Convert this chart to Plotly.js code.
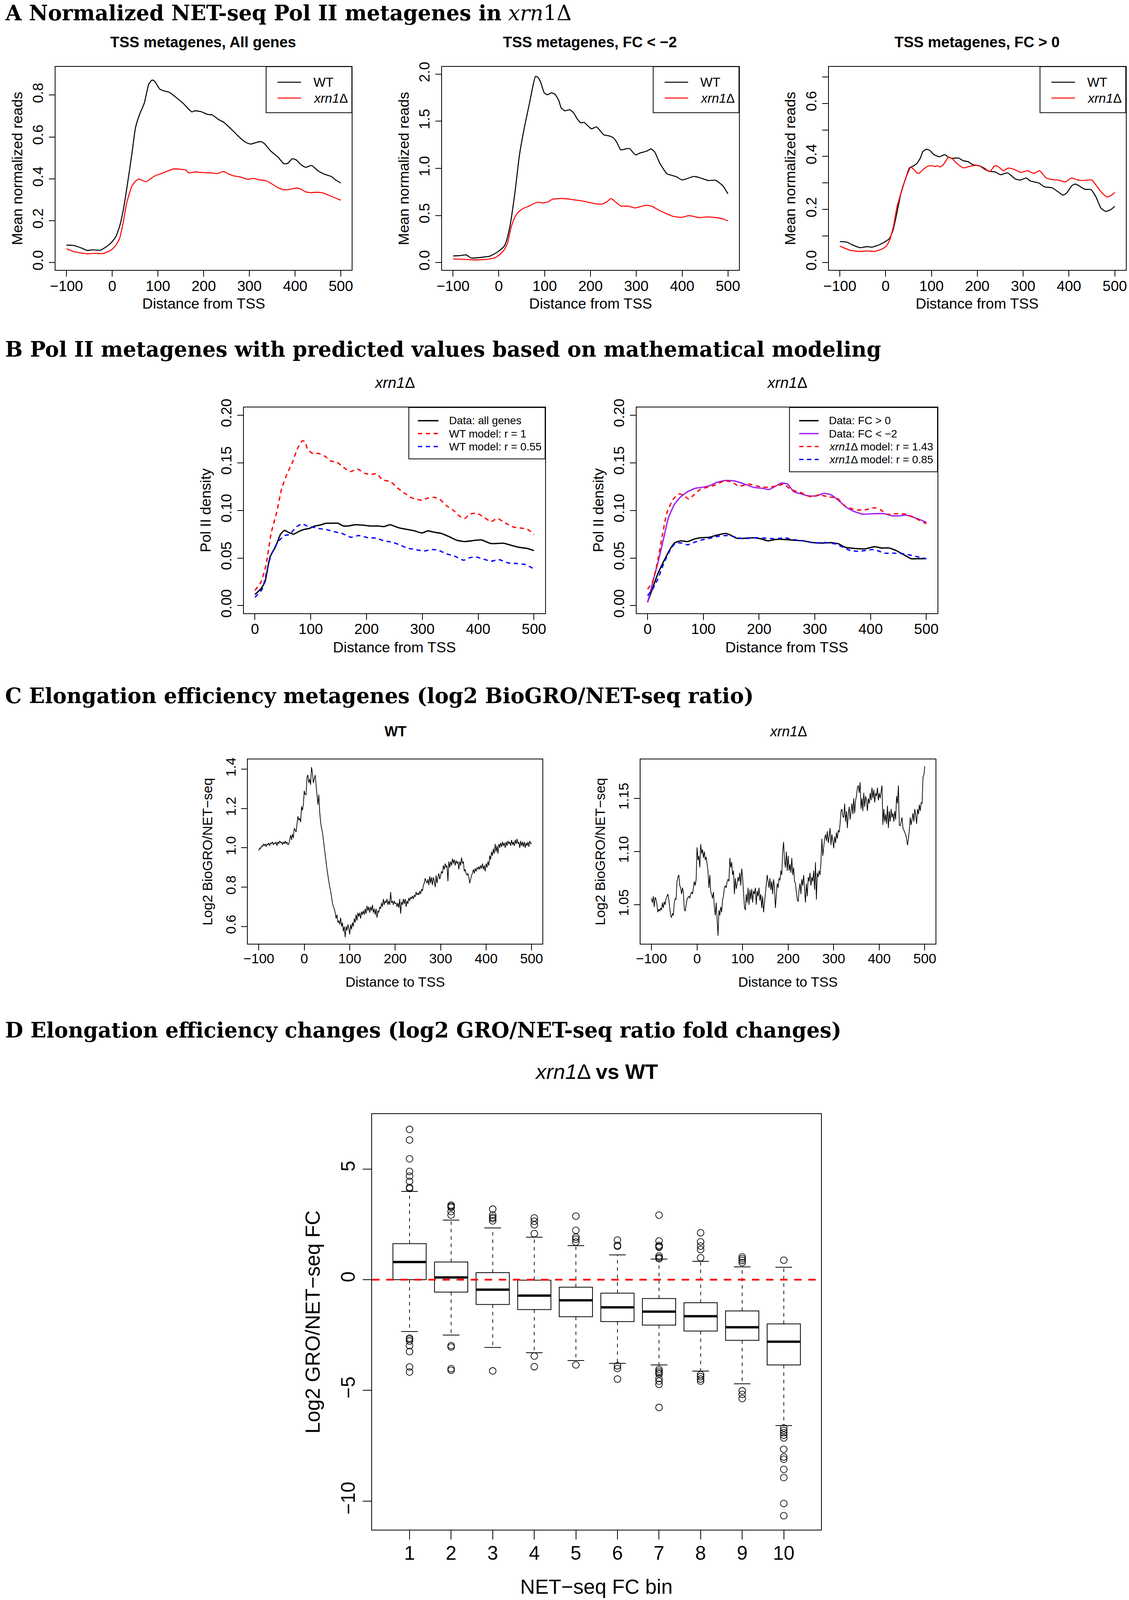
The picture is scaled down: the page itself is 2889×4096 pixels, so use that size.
<!DOCTYPE html>
<html><head><meta charset="utf-8">
<script src="https://cdn.plot.ly/plotly-3.0.1.min.js"></script>
<style>html,body{margin:0;padding:0;background:#fff;}#chart{width:2889px;height:4096px;}</style>
</head><body><div id="chart"></div>
<script>
// ---------------- DATA ----------------
// Panel A1: All genes
const a1WtX = [-100,-85,-69,-55,-42,-26,-10,0,8,16,24,32,43,51,59,70,80,87,92,104,112,126,139,155,174,181,194,208,219,232,244,261,279,293,303,314,325,333,346,362,375,383,394,402,413,423,436,449,463,479,489,500];
const a1WtY = [0.083,0.082,0.071,0.058,0.061,0.059,0.080,0.100,0.124,0.172,0.249,0.356,0.520,0.645,0.703,0.761,0.853,0.872,0.868,0.829,0.821,0.812,0.790,0.761,0.720,0.725,0.721,0.708,0.705,0.684,0.670,0.636,0.597,0.573,0.566,0.573,0.578,0.568,0.534,0.505,0.473,0.473,0.496,0.491,0.467,0.455,0.464,0.440,0.423,0.411,0.394,0.380];
const a1XrX = [-100,-85,-69,-53,-37,-21,-8,0,8,16,24,32,43,51,58,64,74,83,93,107,122,133,149,160,168,181,197,219,229,243,253,264,280,296,309,320,336,346,362,373,383,404,412,423,433,447,460,473,487,500];
const a1XrY = [0.066,0.053,0.046,0.042,0.044,0.043,0.053,0.064,0.083,0.114,0.191,0.288,0.365,0.389,0.399,0.394,0.386,0.399,0.414,0.425,0.438,0.447,0.446,0.443,0.428,0.433,0.430,0.428,0.425,0.435,0.425,0.415,0.409,0.398,0.402,0.396,0.391,0.380,0.358,0.349,0.348,0.356,0.351,0.338,0.334,0.336,0.333,0.322,0.309,0.298];
// Panel A2: FC < -2
const a2WtX = [-100,-85,-71,-61,-50,-31,-21,-10,0,11,16,24,35,45,56,67,74,80,85,91,99,106,115,123,131,136,144,155,163,171,179,186,202,213,229,240,250,258,266,277,285,298,309,322,332,340,351,367,377,388,399,409,425,436,457,473,489,500];
const a2WtY = [0.070,0.074,0.081,0.049,0.049,0.060,0.066,0.091,0.123,0.170,0.219,0.378,0.740,1.143,1.441,1.696,1.866,1.977,1.968,1.919,1.802,1.781,1.802,1.785,1.717,1.643,1.611,1.622,1.590,1.526,1.484,1.488,1.420,1.441,1.356,1.345,1.324,1.271,1.197,1.207,1.211,1.143,1.165,1.182,1.207,1.175,1.058,0.942,0.927,0.910,0.878,0.888,0.914,0.905,0.871,0.874,0.814,0.729];
const a2XrX = [-100,-74,-53,-26,-10,0,11,19,27,35,43,53,64,75,85,96,107,117,133,149,165,181,197,213,226,237,245,253,266,282,298,311,324,335,348,362,380,399,415,436,457,473,489,500];
const a2XrY = [0.038,0.034,0.028,0.034,0.049,0.077,0.130,0.208,0.378,0.485,0.538,0.574,0.595,0.623,0.640,0.633,0.644,0.672,0.680,0.676,0.665,0.655,0.638,0.623,0.621,0.650,0.680,0.650,0.601,0.599,0.580,0.597,0.608,0.595,0.559,0.527,0.491,0.480,0.499,0.478,0.485,0.478,0.463,0.442];
// Panel A3: FC > 0
const a3WtX = [-100,-85,-72,-56,-41,-30,-14,0,8,16,23,34,44,52,59,68,76,81,89,97,105,118,129,137,145,159,169,180,190,201,214,225,238,251,265,272,283,294,307,315,334,347,363,376,387,395,406,414,424,435,448,459,470,480,491,500];
const a3WtY = [0.079,0.077,0.066,0.056,0.060,0.058,0.067,0.080,0.090,0.121,0.174,0.266,0.319,0.357,0.363,0.373,0.395,0.418,0.427,0.422,0.407,0.399,0.407,0.397,0.393,0.394,0.384,0.380,0.369,0.366,0.357,0.344,0.342,0.331,0.338,0.331,0.315,0.311,0.319,0.308,0.300,0.285,0.282,0.267,0.254,0.262,0.289,0.296,0.287,0.276,0.275,0.247,0.205,0.193,0.199,0.212];
const a3XrX = [-100,-77,-56,-41,-25,-9,2,9,17,25,33,44,55,62,68,73,82,92,100,108,113,118,126,137,145,155,169,180,193,204,217,228,238,246,257,267,281,294,310,323,336,350,363,376,392,406,416,429,450,459,470,483,493,500];
const a3XrY = [0.062,0.046,0.042,0.044,0.042,0.050,0.063,0.086,0.136,0.212,0.258,0.319,0.359,0.350,0.338,0.337,0.351,0.363,0.365,0.362,0.365,0.360,0.369,0.397,0.392,0.374,0.357,0.361,0.366,0.365,0.350,0.344,0.365,0.361,0.346,0.356,0.351,0.340,0.346,0.336,0.346,0.319,0.313,0.311,0.304,0.319,0.313,0.309,0.311,0.292,0.267,0.247,0.254,0.264];
// Panel B1
const b1DataX = [0,11,18,27,37,46,53,60,69,79,88,97,107,116,128,137,149,158,168,179,193,207,221,231,242,259,273,285,299,310,322,334,348,362,376,395,406,423,446,460,474,488,500];
const b1DataY = [0.0117,0.018,0.025,0.051,0.062,0.075,0.079,0.077,0.075,0.078,0.080,0.081,0.0835,0.0845,0.0865,0.0865,0.0865,0.0837,0.0837,0.0849,0.0845,0.0836,0.0836,0.083,0.0849,0.0815,0.080,0.0787,0.0763,0.0785,0.077,0.0758,0.0724,0.0686,0.0673,0.0686,0.069,0.0652,0.0655,0.0632,0.0612,0.060,0.0578];
const b1R1X = [0,11,20,29,39,48,58,67,76,85,89,95,104,114,125,135,147,158,170,184,196,207,219,228,243,254,268,282,299,310,322,331,343,357,367,376,385,397,409,423,434,448,463,477,488,500];
const b1R1Y = [0.016,0.025,0.043,0.076,0.098,0.123,0.139,0.150,0.1645,0.173,0.1725,0.1636,0.1596,0.1598,0.157,0.152,0.1505,0.1456,0.1406,0.1433,0.139,0.1377,0.1384,0.1321,0.1303,0.1242,0.1181,0.1129,0.1107,0.1129,0.1136,0.1118,0.1051,0.0994,0.0938,0.0915,0.096,0.0972,0.0934,0.0882,0.0916,0.087,0.0826,0.0814,0.0803,0.0747];
const b1R055X = [0,13,20,29,41,53,62,74,85,93,102,116,128,142,156,172,186,203,217,231,245,259,273,287,303,318,329,343,357,374,383,395,411,423,437,454,466,484,500];
const b1R055Y = [0.0088,0.0173,0.033,0.0533,0.0668,0.0736,0.0747,0.0826,0.086,0.0837,0.0826,0.0808,0.0799,0.0776,0.0758,0.0718,0.0736,0.0713,0.0709,0.068,0.0668,0.0639,0.0605,0.0589,0.0574,0.0589,0.0582,0.0544,0.0522,0.0477,0.050,0.0512,0.0486,0.0466,0.0484,0.0448,0.0444,0.0432,0.0387];
// Panel B2
const b2PosX = [0,7,18,29,40,48,59,72,85,96,111,124,140,149,159,172,188,203,216,229,246,264,279,294,312,329,342,355,372,390,407,420,433,446,460,473,486,500];
const b2PosY = [0.0038,0.015,0.033,0.0466,0.059,0.0657,0.068,0.0673,0.0702,0.0713,0.0718,0.074,0.0758,0.074,0.0709,0.0706,0.0713,0.0702,0.068,0.0695,0.0695,0.0686,0.068,0.0664,0.0657,0.0661,0.065,0.0612,0.060,0.0596,0.0619,0.0605,0.0605,0.0578,0.0533,0.0493,0.0493,0.0493];
const b2NegX = [0,9,20,29,37,48,59,72,85,98,111,124,140,155,172,190,207,218,229,240,251,262,275,288,303,316,329,342,355,368,386,403,425,438,451,464,477,488,500];
const b2NegY = [0.0034,0.024,0.0488,0.0713,0.0916,0.1062,0.1141,0.1197,0.1231,0.1242,0.1258,0.1294,0.1314,0.131,0.128,0.1242,0.1231,0.1219,0.1253,0.1287,0.1276,0.1197,0.1174,0.1152,0.1152,0.1179,0.1163,0.1107,0.1039,0.0994,0.096,0.0965,0.0965,0.0943,0.0943,0.095,0.0927,0.0904,0.0875];
const b2R143X = [0,9,18,27,35,46,57,66,74,83,94,107,120,138,151,164,181,198,216,233,244,257,275,294,307,325,340,353,372,390,407,418,429,446,464,481,500];
const b2R143Y = [0.0173,0.0252,0.0466,0.0758,0.0983,0.1118,0.1174,0.1152,0.1118,0.1163,0.1219,0.1242,0.1264,0.131,0.1298,0.1253,0.1276,0.1253,0.1242,0.1258,0.1276,0.1219,0.1186,0.1141,0.1163,0.1141,0.1129,0.1051,0.1006,0.1006,0.1028,0.1006,0.096,0.0965,0.096,0.0916,0.0859];
const b2R085X = [0,9,18,29,40,50,61,72,85,98,116,129,142,155,172,190,211,229,246,264,281,299,316,338,351,364,381,403,412,425,442,460,477,500];
const b2R085Y = [0.0106,0.0173,0.0274,0.0443,0.0578,0.0657,0.0657,0.0639,0.0668,0.0691,0.0713,0.0731,0.0736,0.0724,0.0702,0.0713,0.0709,0.0702,0.0713,0.0691,0.068,0.0657,0.0664,0.0646,0.0612,0.0578,0.0571,0.0589,0.0578,0.0551,0.0551,0.0544,0.0522,0.0493];
// Panel C: values every 2 nt from -100 to 500
const cStart = -100, cStep = 2;
const cWtY = [
0.985,1.000,0.995,1.010,1.005,1.020,1.010,1.020,1.005,1.020,
1.015,1.025,1.010,1.025,1.020,1.030,1.015,1.025,1.020,1.030,
1.010,1.030,1.020,1.035,1.025,1.030,1.015,1.030,1.020,1.035,
1.020,1.030,1.015,1.020,1.040,1.065,1.040,1.070,1.050,1.100,
1.090,1.080,1.120,1.160,1.140,1.150,1.130,1.210,1.190,1.220,
1.290,1.270,1.270,1.360,1.370,1.330,1.350,1.320,1.410,1.380,
1.330,1.350,1.370,1.320,1.270,1.220,1.270,1.180,1.130,1.100,
1.080,1.040,1.000,0.970,0.930,0.890,0.860,0.830,0.800,0.780,
0.750,0.720,0.700,0.690,0.670,0.640,0.660,0.620,0.630,0.610,
0.645,0.600,0.620,0.575,0.600,0.545,0.600,0.580,0.610,0.590,
0.560,0.610,0.585,0.620,0.600,0.640,0.620,0.660,0.630,0.670,
0.650,0.670,0.640,0.675,0.660,0.680,0.660,0.690,0.665,0.705,
0.680,0.700,0.670,0.700,0.680,0.710,0.670,0.690,0.660,0.690,
0.645,0.680,0.670,0.700,0.690,0.720,0.700,0.740,0.710,0.730,
0.720,0.740,0.710,0.730,0.710,0.775,0.720,0.730,0.710,0.730,
0.715,0.720,0.700,0.720,0.695,0.740,0.665,0.725,0.710,0.740,
0.715,0.740,0.700,0.730,0.715,0.745,0.730,0.750,0.740,0.755,
0.740,0.760,0.750,0.775,0.760,0.770,0.760,0.780,0.765,0.790,
0.780,0.810,0.820,0.845,0.830,0.820,0.840,0.810,0.855,0.820,
0.850,0.810,0.850,0.830,0.800,0.860,0.820,0.850,0.870,0.840,
0.860,0.880,0.870,0.910,0.890,0.920,0.900,0.910,0.830,0.930,
0.900,0.930,0.910,0.945,0.920,0.940,0.910,0.935,0.920,0.930,
0.890,0.930,0.910,0.950,0.920,0.930,0.880,0.890,0.870,0.860,
0.870,0.850,0.820,0.840,0.860,0.870,0.890,0.870,0.895,0.880,
0.900,0.890,0.905,0.890,0.910,0.895,0.920,0.890,0.910,0.880,
0.920,0.900,0.930,0.910,0.960,0.940,0.980,0.960,0.995,0.970,
1.020,0.980,1.010,0.970,1.020,1.000,1.025,1.005,1.030,1.010,
1.025,1.000,1.030,1.010,1.035,1.020,1.030,1.010,1.040,1.015,
1.030,1.010,1.040,1.020,1.045,1.020,1.030,1.000,1.035,1.010,
1.030,1.005,1.030,1.000,1.025,1.010,1.030,1.005,1.035,1.020,
1.025];
const cXrnY = [
1.056,1.052,1.058,1.048,1.057,1.055,1.050,1.043,1.046,1.044,
1.047,1.045,1.052,1.047,1.053,1.050,1.056,1.058,1.060,1.055,
1.048,1.040,1.038,1.042,1.040,1.052,1.056,1.055,1.072,1.076,
1.078,1.068,1.066,1.060,1.066,1.062,1.046,1.044,1.050,1.055,
1.057,1.058,1.056,1.060,1.062,1.060,1.066,1.072,1.068,1.074,
1.104,1.092,1.096,1.085,1.107,1.098,1.102,1.094,1.100,1.092,
1.095,1.088,1.082,1.066,1.078,1.062,1.060,1.056,1.062,1.048,
1.040,1.052,1.036,1.021,1.045,1.040,1.048,1.043,1.055,1.058,
1.066,1.068,1.066,1.072,1.074,1.072,1.094,1.085,1.090,1.078,
1.082,1.060,1.075,1.065,1.070,1.076,1.072,1.080,1.068,1.084,
1.076,1.062,1.048,1.045,1.060,1.052,1.066,1.050,1.064,1.055,
1.065,1.052,1.063,1.060,1.066,1.050,1.063,1.058,1.066,1.054,
1.060,1.047,1.058,1.043,1.052,1.062,1.070,1.078,1.072,1.066,
1.075,1.064,1.072,1.060,1.074,1.066,1.047,1.060,1.070,1.066,
1.075,1.073,1.082,1.078,1.100,1.109,1.092,1.085,1.100,1.082,
1.096,1.082,1.088,1.080,1.094,1.078,1.085,1.072,1.070,1.062,
1.055,1.053,1.064,1.070,1.060,1.074,1.068,1.078,1.063,1.052,
1.070,1.058,1.076,1.072,1.080,1.068,1.076,1.072,1.082,1.064,
1.090,1.055,1.080,1.076,1.082,1.078,1.090,1.112,1.096,1.104,
1.112,1.116,1.110,1.119,1.108,1.114,1.122,1.106,1.116,1.110,
1.103,1.114,1.108,1.118,1.112,1.120,1.118,1.126,1.138,1.140,
1.133,1.132,1.145,1.128,1.138,1.122,1.135,1.142,1.130,1.138,
1.145,1.135,1.150,1.136,1.148,1.152,1.160,1.162,1.155,1.165,
1.140,1.150,1.138,1.155,1.142,1.152,1.148,1.138,1.150,1.145,
1.155,1.148,1.160,1.150,1.158,1.146,1.155,1.152,1.160,1.148,
1.155,1.150,1.156,1.162,1.125,1.140,1.128,1.135,1.126,1.143,
1.122,1.138,1.128,1.140,1.132,1.136,1.128,1.138,1.130,1.152,
1.145,1.162,1.125,1.124,1.128,1.132,1.122,1.120,1.118,1.116,
1.112,1.106,1.112,1.120,1.132,1.125,1.130,1.136,1.128,1.140,
1.134,1.126,1.140,1.135,1.144,1.138,1.146,1.145,1.170,1.172,
1.180];
// Panel D: boxplot statistics per NET-seq FC bin
const dBins = [1,2,3,4,5,6,7,8,9,10];
const dQ1 = [0.00,-0.56,-1.12,-1.35,-1.67,-1.89,-2.05,-2.32,-2.74,-3.85];
const dMed = [0.80,0.10,-0.45,-0.72,-0.93,-1.25,-1.44,-1.65,-2.15,-2.80];
const dQ3 = [1.63,0.80,0.32,-0.02,-0.34,-0.61,-0.85,-1.04,-1.41,-2.00];
const dLow = [-2.34,-2.50,-3.06,-3.30,-3.65,-3.78,-3.85,-4.13,-4.70,-6.59];
const dUp = [3.99,2.69,2.34,1.92,1.54,1.12,0.93,0.83,0.58,0.56];
const dOutliers = [
  [6.79,6.31,5.46,4.89,4.68,4.44,4.17,4.12,-2.64,-2.69,-2.77,-2.98,-3.25,-3.94,-4.17],
  [3.37,3.32,3.27,3.08,2.92,-2.98,-3.04,-4.02,-4.09],
  [3.19,2.92,2.82,2.76,2.66,-4.12],
  [2.79,2.64,2.48,2.08,-3.45,-3.93],
  [2.87,2.23,1.92,1.83,1.70,-3.85],
  [1.79,1.55,1.51,-3.89,-4.01,-4.49],
  [2.92,1.75,1.55,1.50,1.47,1.07,1.00,0.95,-4.05,-4.13,-4.20,-4.26,-4.46,-4.58,-4.73,-5.77],
  [2.12,1.71,1.52,1.36,0.99,-4.29,-4.38,-4.49,-4.58],
  [1.03,0.95,0.87,0.77,-5.02,-5.18,-5.37],
  [0.88,-6.70,-6.81,-6.91,-7.02,-7.15,-7.66,-8.01,-8.11,-8.57,-8.94,-10.11,-10.66]
];
const distTicks = [-100,0,100,200,300,400,500];
const distTicksB = [0,100,200,300,400,500];

// ---------------- LAYOUT HELPERS ----------------
const K = 2889/3844;
const SANS = 'Liberation Sans, Arial, Helvetica, sans-serif';
const SERIF = 'DejaVu Serif, serif';
const PX = x => x/3844;
const PY = y => 1 - y/5450;

const boxes = {
  A1:[189,1198,227,920], A2:[1505,2516,227,920], A3:[2822,3833,227,920],
  B1:[830,1856,1388,2089], B2:[2167,3192,1388,2089],
  C1:[844,1847,2587,3214], C2:[2181,3186,2587,3214],
  D:[1267,2796,3795,5211]
};

function xax(b, range, tickvals, ticktext, fsz, tl, anchor, standoff){
  return {domain:[PX(b[0]),PX(b[1])], range:range, anchor:anchor, tickmode:'array',
    tickvals:tickvals, ticktext:ticktext, showgrid:false, zeroline:false, showline:true, mirror:true,
    linecolor:'#000', linewidth:2, ticks:'outside', ticklen:tl*K, tickwidth:2, tickcolor:'#000',
    ticklabelstandoff: standoff||0,
    tickfont:{family:SANS, size:fsz*K, color:'#000'}, fixedrange:true};
}
function yax(b, range, tickvals, ticktext, fsz, tl, anchor, standoff){
  return {domain:[PY(b[3]),PY(b[2])], range:range, anchor:anchor, tickmode:'array',
    tickvals:tickvals, ticktext:ticktext, tickangle:-90, showgrid:false, zeroline:false, showline:true, mirror:true,
    linecolor:'#000', linewidth:2, ticks:'outside', ticklen:tl*K, tickwidth:2, tickcolor:'#000',
    ticklabelstandoff: standoff||0,
    tickfont:{family:SANS, size:fsz*K, color:'#000'}, fixedrange:true};
}
const fmt = (v,d) => v.toFixed(d).replace('-','\u2212');

const annotations = [];
const shapes = [];
function ann(text, x, y, size, o){
  o = o||{};
  annotations.push({text:text, x:PX(x), y:PY(y), xref:'paper', yref:'paper',
    xanchor:o.xa||'center', yanchor:'middle', showarrow:false, textangle:o.rot||0,
    font:{family:o.family||SANS, size:size*K, color:'#000'}});
}
function legendBox(l, r, t, bt, items, fsz, lx0, lx1, tx){
  shapes.push({type:'rect', xref:'paper', yref:'paper', x0:PX(l), x1:PX(r), y0:PY(bt), y1:PY(t),
    line:{color:'#000', width:2}, fillcolor:'rgba(255,255,255,0)', layer:'above'});
  items.forEach(it => {
    shapes.push({type:'line', xref:'paper', yref:'paper', x0:PX(l+lx0), x1:PX(l+lx1), y0:PY(it.y), y1:PY(it.y),
      line:{color:it.color, width:it.w, dash:it.dash||'solid'}});
    ann(it.text, l+tx, it.y, fsz, {xa:'left'});
  });
}

// ---------------- TRACES ----------------
const traces = [];
function line(x, y, ax, color, w, dash, shape){
  traces.push({type:'scatter', mode:'lines', x:x, y:y, xaxis:'x'+ax, yaxis:'y'+ax,
    line:{color:color, width:w, dash:dash||'solid', shape:shape||'spline', smoothing:0.5},
    hoverinfo:'skip', showlegend:false});
}
const LA = 2.6, LB = 3.4, BDASH = '11px,9px';
line(a1WtX, a1WtY, '', '#000', LA); line(a1XrX, a1XrY, '', '#ff0000', LA);
line(a2WtX, a2WtY, '2', '#000', LA); line(a2XrX, a2XrY, '2', '#ff0000', LA);
line(a3WtX, a3WtY, '3', '#000', LA); line(a3XrX, a3XrY, '3', '#ff0000', LA);
line(b1DataX, b1DataY, '4', '#000', LB);
line(b1R1X, b1R1Y, '4', '#ff0000', LB, BDASH);
line(b1R055X, b1R055Y, '4', '#0000ff', LB, BDASH);
line(b2PosX, b2PosY, '5', '#000', LB);
line(b2NegX, b2NegY, '5', '#a020f0', LB);
line(b2R143X, b2R143Y, '5', '#ff0000', LB, BDASH);
line(b2R085X, b2R085Y, '5', '#0000ff', LB, BDASH);
traces.push({type:'scatter', mode:'lines', x0:cStart, dx:cStep, y:cWtY, xaxis:'x6', yaxis:'y6',
  line:{color:'#000', width:1.8}, hoverinfo:'skip', showlegend:false});
traces.push({type:'scatter', mode:'lines', x0:cStart, dx:cStep, y:cXrnY, xaxis:'x7', yaxis:'y7',
  line:{color:'#000', width:1.8}, hoverinfo:'skip', showlegend:false});

// Panel D boxes
traces.push({type:'box', x:dBins, q1:dQ1, median:dMed, q3:dQ3, lowerfence:dQ1, upperfence:dQ3,
  xaxis:'x8', yaxis:'y8', width:0.8, fillcolor:'#fff', line:{color:'#000', width:2},
  whiskerwidth:0, boxpoints:false, hoverinfo:'skip', showlegend:false});
const medX=[], medY=[], whX=[], whY=[], stX=[], stY=[], oX=[], oY=[];
dBins.forEach((b,i) => {
  medX.push(b-0.4, b+0.4, null); medY.push(dMed[i], dMed[i], null);
  whX.push(b, b, null, b, b, null); whY.push(dQ3[i], dUp[i], null, dQ1[i], dLow[i], null);
  stX.push(b-0.2, b+0.2, null, b-0.2, b+0.2, null); stY.push(dUp[i], dUp[i], null, dLow[i], dLow[i], null);
  dOutliers[i].forEach(v => { oX.push(b); oY.push(v); });
});
traces.push({type:'scatter', mode:'lines', x:whX, y:whY, xaxis:'x8', yaxis:'y8',
  line:{color:'#000', width:1.8, dash:'9px,10px'}, hoverinfo:'skip', showlegend:false});
traces.push({type:'scatter', mode:'lines', x:stX, y:stY, xaxis:'x8', yaxis:'y8',
  line:{color:'#000', width:2}, hoverinfo:'skip', showlegend:false});
traces.push({type:'scatter', mode:'lines', x:medX, y:medY, xaxis:'x8', yaxis:'y8',
  line:{color:'#000', width:6}, hoverinfo:'skip', showlegend:false});
traces.push({type:'scatter', mode:'markers', x:oX, y:oY, xaxis:'x8', yaxis:'y8',
  marker:{symbol:'circle-open', size:17, color:'#000', line:{width:1.8, color:'#000'}},
  hoverinfo:'skip', showlegend:false});
shapes.push({type:'line', xref:'x8 domain', yref:'y8', x0:0, x1:1, y0:0, y1:0,
  line:{color:'#ff0000', width:4.6, dash:'19px,17px'}, layer:'above'});

// ---------------- AXES ----------------
const TA = 50, TL = 20, SO = -9;
const layout = {
  width:2889, height:4096, margin:{l:0,r:0,t:0,b:0}, paper_bgcolor:'#fff', plot_bgcolor:'#fff',
  showlegend:false,
  xaxis: xax(boxes.A1,[-124,524],distTicks,distTicks.map(v=>fmt(v,0)),TA,TL,'y',SO),
  yaxis: yax(boxes.A1,[-0.036,0.936],[0,0.2,0.4,0.6,0.8],[0,0.2,0.4,0.6,0.8].map(v=>fmt(v,1)),TA,TL,'x'),
  xaxis2: xax(boxes.A2,[-124,524],distTicks,distTicks.map(v=>fmt(v,0)),TA,TL,'y2',SO),
  yaxis2: yax(boxes.A2,[-0.08,2.08],[0,0.5,1,1.5,2],[0,0.5,1,1.5,2].map(v=>fmt(v,1)),TA,TL,'x2'),
  xaxis3: xax(boxes.A3,[-124,524],distTicks,distTicks.map(v=>fmt(v,0)),TA,TL,'y3',SO),
  yaxis3: yax(boxes.A3,[-0.0284,0.7384],[0,0.1,0.2,0.3,0.4,0.5,0.6,0.7],['0.0','','0.2','','0.4','','0.6',''],TA,TL,'x3'),
  xaxis4: xax(boxes.B1,[-20,520],distTicksB,distTicksB.map(v=>fmt(v,0)),TA,TL,'y4',SO),
  yaxis4: yax(boxes.B1,[-0.008,0.208],[0,0.05,0.1,0.15,0.2],[0,0.05,0.1,0.15,0.2].map(v=>fmt(v,2)),TA,TL,'x4'),
  xaxis5: xax(boxes.B2,[-20,520],distTicksB,distTicksB.map(v=>fmt(v,0)),TA,TL,'y5',SO),
  yaxis5: yax(boxes.B2,[-0.008,0.208],[0,0.05,0.1,0.15,0.2],[0,0.05,0.1,0.15,0.2].map(v=>fmt(v,2)),TA,TL,'x5'),
  xaxis6: xax(boxes.C1,[-124,524],distTicks,distTicks.map(v=>fmt(v,0)),47,TL,'y6',SO),
  yaxis6: yax(boxes.C1,[0.513,1.449],[0.6,0.8,1.0,1.2,1.4],[0.6,0.8,1.0,1.2,1.4].map(v=>fmt(v,1)),47,TL,'x6'),
  xaxis7: xax(boxes.C2,[-124,524],distTicks,distTicks.map(v=>fmt(v,0)),47,TL,'y7',SO),
  yaxis7: yax(boxes.C2,[1.0136,1.1864],[1.05,1.10,1.15],[1.05,1.10,1.15].map(v=>fmt(v,2)),47,TL,'x7'),
  xaxis8: xax(boxes.D,[0.1,10.9],dBins,dBins.map(String),66,30,'y8',-7),
  yaxis8: yax(boxes.D,[-11.3,7.48],[-10,-5,0,5],[-10,-5,0,5].map(v=>fmt(v,0)),66,30,'x8'),
  annotations: annotations, shapes: shapes
};

// ---------------- TEXT ----------------
const HS = 71;
ann('<b>A Normalized NET-seq Pol II metagenes in</b> <i>xrn</i>1Δ', 14, 44, HS, {xa:'left', family:SERIF});
ann('<b>B Pol II metagenes with predicted values based on mathematical modeling</b>', 14, 1190, HS, {xa:'left', family:SERIF});
ann('<b>C Elongation efficiency metagenes (log2 BioGRO/NET-seq ratio)</b>', 14, 2371, HS, {xa:'left', family:SERIF});
ann('<b>D Elongation efficiency changes (log2 GRO/NET-seq ratio fold changes)</b>', 14, 3510, HS, {xa:'left', family:SERIF});

ann('<b>TSS metagenes, All genes</b>', 692, 143, 51);
ann('<b>TSS metagenes, FC &lt; \u22122</b>', 2009, 143, 51);
ann('<b>TSS metagenes, FC &gt; 0</b>', 3327, 143, 51);
['A1','A2','A3'].forEach(k => {
  const b = boxes[k];
  ann('Distance from TSS', (b[0]+b[1])/2, 1034, 50);
  ann('Mean normalized reads', b[0]-131, (b[2]+b[3])/2, 50, {rot:-90});
  legendBox(b[1]-292, b[1], b[2], 384, [
    {y:280, color:'#000', w:LA, text:'WT'},
    {y:334, color:'#ff0000', w:LA, text:'<i>xrn1</i>Δ'}], 44, 39, 119, 158);
});
ann('<i>xrn1</i>Δ', 1344, 1303, 52);
ann('<i>xrn1</i>Δ', 2680, 1303, 52);
['B1','B2'].forEach(k => {
  const b = boxes[k];
  ann('Distance from TSS', (b[0]+b[1])/2, 2205, 50);
  ann('Pol II density', b[0]-131, (b[2]+b[3])/2, 50, {rot:-90});
});
legendBox(1392, 1856, 1388, 1563, [
  {y:1433, color:'#000', w:LB, text:'Data: all genes'},
  {y:1477, color:'#ff0000', w:LB, dash:BDASH, text:'WT model: r = 1'},
  {y:1521, color:'#0000ff', w:LB, dash:BDASH, text:'WT model: r = 0.55'}], 37, 31, 101, 134);
legendBox(2688, 3192, 1388, 1607, [
  {y:1433, color:'#000', w:LB, text:'Data: FC &gt; 0'},
  {y:1477, color:'#a020f0', w:LB, text:'Data: FC &lt; \u22122'},
  {y:1521, color:'#ff0000', w:LB, dash:BDASH, text:'<i>xrn1</i>Δ model: r = 1.43'},
  {y:1565, color:'#0000ff', w:LB, dash:BDASH, text:'<i>xrn1</i>Δ model: r = 0.85'}], 37, 33, 99, 132);

ann('<b>WT</b>', 1346, 2492, 48);
ann('<i>xrn1</i>Δ', 2684, 2492, 48);
['C1','C2'].forEach(k => {
  const b = boxes[k];
  ann('Distance to TSS', (b[0]+b[1])/2, 3344, 47);
  ann('Log2 BioGRO/NET\u2212seq', b[0]-137, (b[2]+b[3])/2, 47, {rot:-90});
});

ann('<i>xrn1</i>Δ <b>vs WT</b>', 2031, 3650, 72);
ann('NET\u2212seq FC bin', 2031, 5404, 70);
ann('Log2 GRO/NET\u2212seq FC', 1064, 4503, 70, {rot:-90});

Plotly.newPlot('chart', traces, layout, {staticPlot:true, displayModeBar:false});
</script></body></html>
